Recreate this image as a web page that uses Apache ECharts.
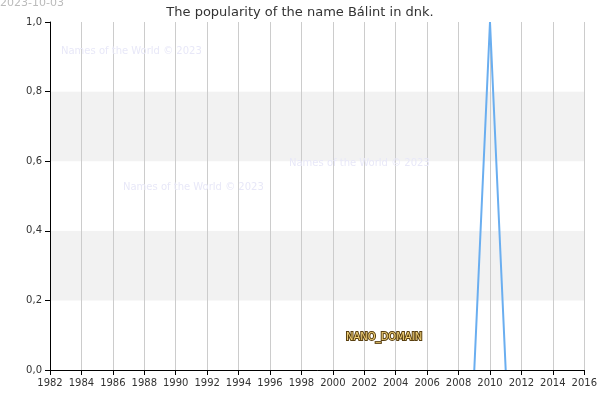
<!DOCTYPE html>
<html><head><meta charset="utf-8">
<script src="https://cdn.jsdelivr.net/npm/echarts@6/dist/echarts.min.js"></script>
<style>html,body{margin:0;padding:0;background:#fff}#c{width:600px;height:400px}</style>
</head><body><div id="c"></div>
<script>
const years = [2009, 2010, 2011];
const values = [0, 1, 0];
const xTicks = [1982, 2016, 2];
const chart = echarts.init(document.getElementById('c'));
const F = 'DejaVu Sans';
const wm = (x, y) => ({type: 'text', x: x, y: y, z: 100, style: {text: 'Names of the World © 2023', fontFamily: F, fontSize: 10, fill: '#e8e8f8'}});
chart.setOption({
  animation: false,
  title: {text: 'The popularity of the name Bálint in dnk.', left: 'center', top: 1,
    textStyle: {fontFamily: F, fontSize: 13, fontWeight: 'normal', color: '#333'}},
  graphic: [
    {type: 'text', x: 0, y: -2, z: 100, style: {text: '2023-10-03', fontFamily: F, fontSize: 11, fill: '#bbb'}},
    wm(61, 46), wm(123, 182), wm(289, 158),
    {type: 'text', x: 346, y: 332, z: 100, style: {text: 'NANO_DOMAIN', fontFamily: F, fontSize: 10, fill: '#f2d27a', stroke: '#5a4010', lineWidth: 2}}
  ],
  grid: {left: 50, right: 15, top: 22, bottom: 30},
  xAxis: {type: 'value', min: xTicks[0], max: xTicks[1], interval: xTicks[2],
    axisLine: {lineStyle: {color: '#000'}}, axisTick: {show: true, lineStyle: {color: '#000'}},
    axisLabel: {fontFamily: F, fontSize: 10, color: '#333', formatter: v => String(v)},
    splitLine: {show: true, lineStyle: {color: '#ccc'}}},
  yAxis: {type: 'value', min: 0, max: 1, interval: 0.2,
    axisLine: {show: true, lineStyle: {color: '#000'}}, axisTick: {show: true, lineStyle: {color: '#000'}},
    axisLabel: {fontFamily: F, fontSize: 10, color: '#333', formatter: v => v.toFixed(1).replace('.', ',')},
    splitLine: {show: false},
    splitArea: {show: true, areaStyle: {color: ['#fff', '#f2f2f2']}}},
  series: [{type: 'line', data: years.map((y, i) => [y, values[i]]), showSymbol: false,
    lineStyle: {color: '#6aaef0', width: 2}}]
});
</script></body></html>
